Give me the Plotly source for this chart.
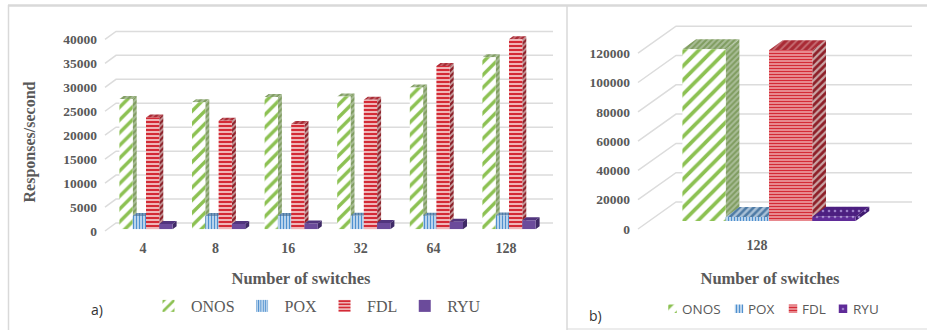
import plotly.graph_objects as go

# ---------- data ----------
SERIES = ["ONOS", "POX", "FDL", "RYU"]
switches_a = ["4", "8", "16", "32", "64", "128"]
onos_a = [27200, 26500, 27600, 27700, 29600, 35900]
pox_a = [2800, 2800, 2800, 2850, 2850, 2900]
fdl_a = [23350, 22650, 22000, 27050, 34100, 39700]
ryu_a = [1100, 1100, 1200, 1300, 1600, 1900]
ticks_a = [0, 5000, 10000, 15000, 20000, 25000, 30000, 35000, 40000]

switches_b = ["128"]
onos_b = [117200]
pox_b = [2800]
fdl_b = [116500]
ryu_b = [2900]
ticks_b = [0, 20000, 40000, 60000, 80000, 100000, 120000]

# ---------- style / layout constants ----------
W, H = 927, 330
TXT = "#595959"
GRID = "#dcdcdc"
SERIF = "Liberation Serif"
SANS = "Open Sans"


def pat(shape, fg, bg, size, sol):
    return dict(shape=shape, fgcolor=fg, bgcolor=bg, size=size, solidity=sol, fgopacity=1, fillmode="replace")


STYLE_A = [
    dict(front=pat("/", "#8cc152", "#ffffff", 9, 0.38), side=pat("/", "#7f9c5f", "#a9bd97", 4, 0.5), top=pat("/", "#7f9c5f", "#a9bd97", 4, 0.5)),
    dict(front=pat("|", "#4f90cf", "#ffffff", 3, 0.6), side=pat("|", "#4d7aa5", "#a9c0d6", 3, 0.5), top=pat("|", "#4d7aa5", "#7f9fc0", 3, 0.5)),
    dict(front=pat("-", "#d42a36", "#efb4b6", 4, 0.5), side=pat("/", "#8e1f28", "#c9a5a5", 4, 0.55), top=pat("/", "#a92a35", "#c56a70", 4, 0.6)),
    dict(front=pat("/", "#6b4b9b", "#6b4b9b", 5, 0.3), side=pat("/", "#3f2a66", "#3f2a66", 5, 0.3), top=pat("/", "#51357e", "#51357e", 5, 0.3)),
]
STYLE_B = [
    dict(front=pat("/", "#8cc152", "#ffffff", 10, 0.38), side=pat("/", "#7f9c5f", "#a9bd97", 4, 0.5), top=pat("/", "#7f9c5f", "#a9bd97", 4, 0.5)),
    dict(front=pat("|", "#4f90cf", "#ffffff", 3, 0.6), side=pat("|", "#4d7aa5", "#a9c0d6", 3, 0.5), top=pat("/", "#4d7aa5", "#a9c0d6", 5, 0.5)),
    dict(front=pat("-", "#d42a36", "#f5c8c9", 3, 0.6), side=pat("/", "#8e1f28", "#c9a5a5", 5, 0.55), top=pat("/", "#a92a35", "#c56a70", 5, 0.6)),
    dict(front=pat(".", "#9a7cc8", "#5f2b98", 6, 0.15), side=pat(".", "#9a7cc8", "#3f1a70", 6, 0.15), top=pat(".", "#9a7cc8", "#4c1f80", 6, 0.15)),
]

PANEL_A = dict(bar_x0=146, unit=72.6, bar_w=13.3 / 72.6, bar_zero=229.3, scale=0.00479,
               bar_dom=(105, 560), bar_top=20, depth=(4, 3),
               tick_x0=143, tick_dom=(42, 560), tick_zero=231, tick_ydom=(264, 20),
               axis_px=105, wall=(11, 8), grid_end=553, xaxis_y=238, title_gap=17)
PANEL_B = dict(bar_x0=769, unit=173.2, bar_w=0.25, bar_zero=221, scale=0.001465,
               bar_dom=(640, 912), bar_top=10, depth=(13.7, 10),
               tick_x0=757, tick_dom=(628, 912), tick_zero=229, tick_ydom=(250, 10),
               axis_px=638, wall=(38, 27), grid_end=913, xaxis_y=235, title_gap=20)

fx = lambda px: px / W
fy = lambda py: 1 - py / H


def build_panel(fig, p, values, ticks, styles, axes_tick, axes_bar, show_legend):
    tx, ty = axes_tick
    bx, by = axes_bar
    wx, wy = p["wall"]
    ux = (p["axis_px"] - p["tick_x0"]) / p["unit"]
    ux2 = (p["axis_px"] + wx - p["tick_x0"]) / p["unit"]
    ux3 = (p["grid_end"] - p["tick_x0"]) / p["unit"]
    gx, gy = [], []
    for t in ticks:
        gx += [ux, ux2, ux3, None]
        gy += [t, t + wy / p["scale"], t + wy / p["scale"], None]
    fig.add_trace(go.Scatter(x=gx, y=gy, mode="lines", line=dict(color=GRID, width=1.5),
                             xaxis=tx, yaxis=ty, showlegend=False, hoverinfo="skip"))
    ddx = p["depth"][0] / p["unit"]
    ddy = p["depth"][1] / p["scale"]
    w = p["bar_w"]
    for j, (name, vals, st) in enumerate(zip(SERIES, values, styles)):
        xs = [i + (j - 1.5) * w for i in range(len(vals))]
        sx, sy, tpx, tpy = [], [], [], []
        for x, v in zip(xs, vals):
            x0, x1 = x - w / 2, x + w / 2
            sx += [x1, x1 + ddx, x1 + ddx, x1, x1, None]
            sy += [0, ddy, v + ddy, v, 0, None]
            tpx += [x0, x1, x1 + ddx, x0 + ddx, x0, None]
            tpy += [v, v, v + ddy, v + ddy, v, None]
        z = 10 + 2 * j
        fig.add_trace(go.Scatter(x=sx, y=sy, mode="lines", line=dict(width=0), fill="toself",
                                 fillcolor=st["side"]["bgcolor"], fillpattern=st["side"],
                                 xaxis=bx, yaxis=by, zorder=z, showlegend=False, hoverinfo="skip"))
        fig.add_trace(go.Scatter(x=tpx, y=tpy, mode="lines", line=dict(width=0), fill="toself",
                                 fillcolor=st["top"]["bgcolor"], fillpattern=st["top"],
                                 xaxis=bx, yaxis=by, zorder=z, showlegend=False, hoverinfo="skip"))
        fig.add_trace(go.Bar(x=xs, y=vals, width=w, name=name,
                             marker=dict(color=st["front"]["bgcolor"], pattern=st["front"], line=dict(width=0)),
                             xaxis=bx, yaxis=by, zorder=z + 1, showlegend=show_legend))


fig = go.Figure()
build_panel(fig, PANEL_A, [onos_a, pox_a, fdl_a, ryu_a], ticks_a, STYLE_A, ("x", "y"), ("x2", "y2"), True)
build_panel(fig, PANEL_B, [onos_b, pox_b, fdl_b, ryu_b], ticks_b, STYLE_B, ("x3", "y3"), ("x4", "y4"), False)


def axes(p, cats, ticks, with_ytitle):
    lo, hi = p["tick_dom"]
    yb, yt = p["tick_ydom"]
    tick_ax_x = dict(
        domain=[fx(lo), fx(hi)], anchor="free", position=fy(p["xaxis_y"]),
        range=[(lo - p["tick_x0"]) / p["unit"], (hi - p["tick_x0"]) / p["unit"]],
        tickvals=list(range(len(cats))), ticktext=cats, ticks="", showgrid=False, zeroline=False, showline=False,
        tickfont=dict(family=SERIF, size=14, color=TXT, weight="bold"),
        title=dict(text="Number of switches", standoff=p["title_gap"],
                   font=dict(family=SERIF, size=16.5, color=TXT, weight="bold")),
    )
    tick_ax_y = dict(
        domain=[fy(yb), fy(yt)], anchor="free", position=fx(p["axis_px"]),
        range=[(p["tick_zero"] - yb) / p["scale"], (p["tick_zero"] - yt) / p["scale"]],
        tickvals=ticks, tickformat="d", ticks="", showgrid=False, zeroline=False, showline=False,
        ticklabelstandoff=8,
        tickfont=dict(family=SERIF, size=13.5, color=TXT, weight="bold"),
    )
    if with_ytitle:
        tick_ax_y["title"] = dict(text="Responses/second", standoff=22,
                                  font=dict(family=SERIF, size=16, color=TXT, weight="bold"))
    blo, bhi = p["bar_dom"]
    bar_ax_x = dict(domain=[fx(blo), fx(bhi)],
                    range=[(blo - p["bar_x0"]) / p["unit"], (bhi - p["bar_x0"]) / p["unit"]], visible=False)
    bar_ax_y = dict(domain=[fy(p["bar_zero"]), fy(p["bar_top"])],
                    range=[0, (p["bar_zero"] - p["bar_top"]) / p["scale"]], visible=False)
    return tick_ax_x, tick_ax_y, bar_ax_x, bar_ax_y


ax1, ay1, ax2, ay2 = axes(PANEL_A, switches_a, ticks_a, True)
ax3, ay3, ax4, ay4 = axes(PANEL_B, switches_b, ticks_b, False)
ax2["anchor"] = "y2"; ay2["anchor"] = "x2"
ax4["anchor"] = "y4"; ay4["anchor"] = "x4"

# legend keys for panel b (tight spacing, text as annotations)
key_x = [672.5, 739, 793, 843]
key_text_x = [681.5, 747.5, 801.5, 852.5]
for j, name in enumerate(SERIES):
    fig.add_trace(go.Bar(x=[key_x[j]], y=[8.5], base=[304.5], width=[8.5], name=name,
                         marker=dict(color=STYLE_B[j]["front"]["bgcolor"], pattern=STYLE_B[j]["front"], line=dict(width=0)),
                         xaxis="x5", yaxis="y5", showlegend=False, hoverinfo="skip"))

annotations = [
    dict(text="a)", x=fx(89), y=fy(309), xref="paper", yref="paper", xanchor="left", yanchor="middle",
         showarrow=False, font=dict(family=SANS, size=14, color="#333333")),
    dict(text="b)", x=fx(587), y=fy(315), xref="paper", yref="paper", xanchor="left", yanchor="middle",
         showarrow=False, font=dict(family=SANS, size=14, color="#333333")),
]
for name, tx in zip(SERIES, key_text_x):
    annotations.append(dict(text=name, x=fx(tx), y=fy(309), xref="paper", yref="paper", xanchor="left",
                            yanchor="middle", xshift=-2, showarrow=False,
                            font=dict(family=SANS, size=13.5, color=TXT)))

frame = [
    (8, 5.5, W, 5.5, 2.5), (8.5, 5, 8.5, H, 1.5), (567, 5, 567, H, 1.5), (567, 329, W, 329, 1),
]
shapes = [dict(type="line", xref="paper", yref="paper", x0=fx(a), y0=fy(b), x1=fx(c), y1=fy(d),
               line=dict(color="#d9d9d9", width=lw), layer="below") for a, b, c, d, lw in frame]

fig.update_layout(
    width=W, height=H, margin=dict(l=0, r=0, t=0, b=0), autosize=False,
    paper_bgcolor="#ffffff", plot_bgcolor="rgba(0,0,0,0)", barmode="overlay",
    xaxis=ax1, yaxis=ay1, xaxis2=ax2, yaxis2=ay2, xaxis3=ax3, yaxis3=ay3, xaxis4=ax4, yaxis4=ay4,
    xaxis5=dict(domain=[0, 1], range=[0, W], visible=False, anchor="y5"),
    yaxis5=dict(domain=[0, 1], range=[H, 0], visible=False, anchor="x5"),
    legend=dict(orientation="h", x=fx(146), xanchor="left", y=fy(306), yanchor="middle", itemwidth=35,
                bgcolor="rgba(0,0,0,0)", font=dict(family=SERIF, size=16, color=TXT)),
    annotations=annotations, shapes=shapes, showlegend=True,
)

fig.write_html("out.html", config=dict(displayModeBar=False),
               post_script="document.body.style.margin='0';document.body.style.overflow='hidden';")
